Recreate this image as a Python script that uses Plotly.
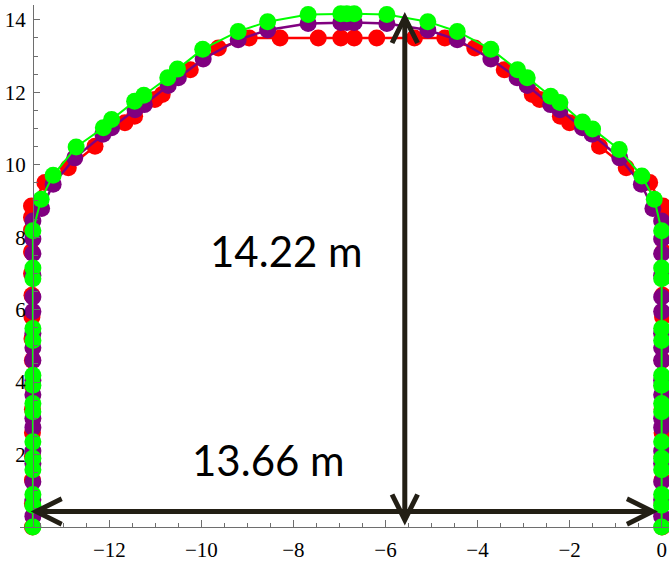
import numpy as np
import plotly.graph_objects as go

# ---- tunnel profile data (x, y in metres) ----
red_x = [-13.67, -13.67, -13.67, -13.67, -13.67, -13.67, -13.67, -13.67, -13.68, -13.68,
         -13.68, -13.69, -13.69, -13.69, -13.69, -13.69,
         -13.40, -12.89, -12.31, -11.66, -11.45, -11.01, -10.85, -10.24, -9.63,
         -8.96, -8.29, -7.46, -6.97, -6.68, -6.19, -5.37, -4.71,
         -4.06, -3.42, -2.81, -2.65, -2.20, -2.00, -1.35, -0.77, -0.26,
         0.03, 0.03, 0.03, 0.03, 0.03, 0.02, 0.02, 0.02, 0.01, 0.01,
         0.01, 0.01, 0.01, 0.01, 0.01, 0.01]
red_y = [0.0, 0.65, 1.3, 1.95, 2.6, 3.25, 3.9, 4.6, 5.2, 5.8,
         6.4, 7.0, 7.6, 8.2, 8.55, 8.86,
         9.51, 9.92, 10.51, 11.16, 11.34, 11.80, 11.94, 12.62, 13.22,
         13.50, 13.50, 13.50, 13.50, 13.50, 13.50, 13.50, 13.50,
         13.22, 12.62, 11.94, 11.80, 11.34, 11.16, 10.51, 9.92, 9.51,
         8.86, 8.55, 8.2, 7.6, 7.0, 6.4, 5.8, 5.2, 4.6, 3.9,
         3.25, 2.6, 1.95, 1.3, 0.65, 0.0]

purple_x = [-13.66] * 18 + [
    -13.47, -13.22, -12.75, -12.14, -11.95, -11.44, -11.24, -10.72, -10.50, -9.96,
    -9.20, -8.56, -7.68, -6.97, -6.84, -6.68, -5.97, -5.08, -4.44,
    -3.71, -3.14, -2.92, -2.41, -2.21, -1.72, -1.51, -0.91, -0.44, -0.19,
] + [0.0] * 18
purple_y = [0.3, 0.75, 1.25, 1.75, 2.1, 2.75, 3.0, 3.65, 4.05, 4.6,
            4.95, 5.35, 5.95, 6.35, 6.95, 7.55, 7.95, 8.45,
            8.79, 9.46, 10.19, 10.84, 11.02, 11.52, 11.66, 12.19, 12.40, 12.92,
            13.45, 13.72, 13.90, 13.93, 13.93, 13.93, 13.90, 13.72, 13.45,
            12.92, 12.40, 12.19, 11.66, 11.52, 11.02, 10.84, 10.19, 9.46, 8.79,
            8.45, 7.95, 7.55, 6.95, 6.35, 5.95, 5.35, 4.95, 4.6,
            4.05, 3.65, 3.0, 2.75, 2.1, 1.75, 1.25, 0.75, 0.3]

green_x = [-13.66] * 15 + [
    -13.48, -13.22, -12.72, -12.13, -11.95, -11.45, -11.25, -10.73, -10.52, -9.97,
    -9.20, -8.56, -7.68, -6.97, -6.84, -6.68, -5.97, -5.08, -4.44,
    -3.71, -3.13, -2.92, -2.41, -2.21, -1.72, -1.50, -0.92, -0.43, -0.16,
] + [0.0] * 15
green_y = [0.0, 0.6, 0.9, 1.58, 1.9, 2.35, 3.18, 3.41, 3.91, 4.19,
           5.15, 5.48, 6.85, 7.15, 8.18,
           9.05, 9.71, 10.49, 11.02, 11.25, 11.75, 11.92, 12.40, 12.64, 13.19,
           13.68, 13.95, 14.15, 14.17, 14.17, 14.17, 14.15, 13.95, 13.68,
           13.19, 12.62, 12.40, 11.89, 11.72, 11.18, 10.99, 10.42, 9.69, 9.05,
           8.18, 7.15, 6.85, 5.48, 5.15, 4.19, 3.91, 3.41, 3.18, 2.35,
           1.9, 1.58, 0.9, 0.6, 0.0]

# dimension arrows and their labels
width_value = 13.66
height_value = 14.22
width_arrow_start = -13.74
width_arrow_y = 0.43
height_arrow_x = -5.58
width_label = "13.66 m"
height_label = "14.22 m"

# axis ticks
x_ticks = [-12, -10, -8, -6, -4, -2, 0]
y_ticks = [2, 4, 6, 8, 10, 12, 14]

series = [
    (red_x, red_y, "#ff0000", 2.5),
    (purple_x, purple_y, "#800080", 2.5),
    (green_x, green_y, "#00ff00", 2),
]

fig = go.Figure()
for xs, ys, color, lw in series:
    fig.add_trace(go.Scatter(
        x=xs, y=ys, mode="lines+markers",
        line=dict(color=color, width=lw),
        marker=dict(color=color, size=17, line=dict(width=0)),
        cliponaxis=False, showlegend=False, hoverinfo="skip",
    ))

arrow_color = "#231f15"
arrow_common = dict(
    xref="x", yref="y", axref="x", ayref="y", text="", showarrow=True,
    arrowhead=5, startarrowhead=5, arrowside="end+start",
    arrowsize=1.0, startarrowsize=1.0, arrowwidth=5, arrowcolor=arrow_color,
    standoff=0, startstandoff=0,
)
fig.add_annotation(x=width_arrow_start + width_value, y=width_arrow_y,
                   ax=width_arrow_start, ay=width_arrow_y, **arrow_common)
fig.add_annotation(x=height_arrow_x, y=height_value,
                   ax=height_arrow_x, ay=0, **arrow_common)

label_font = dict(family="Lato", size=42, color="black")
fig.add_annotation(x=-8.15, y=7.62, text=height_label, showarrow=False, font=label_font)
fig.add_annotation(x=-8.55, y=1.85, text=width_label, showarrow=False, font=label_font)

axis_color = "#6e6e6e"
tick_font = dict(family="Liberation Serif", size=21, color="black")
x_range = [-13.94, 0.16]
y_range = [0, 14.41]

fig.update_layout(
    width=669, height=562,
    margin=dict(l=20, r=0, t=5, b=33, pad=0),
    paper_bgcolor="white", plot_bgcolor="white",
    xaxis=dict(
        range=x_range, showgrid=False, zeroline=False,
        showline=True, linecolor=axis_color, linewidth=1,
        tickmode="array", tickvals=x_ticks, ticks="inside", ticklen=7,
        tickcolor=axis_color, tickwidth=1, tickfont=tick_font,
        ticklabelstandoff=4,
        minor=dict(tickmode="array", tickvals=list(np.arange(-13.5, 0.01, 0.5)),
                   ticks="inside", ticklen=4, tickcolor=axis_color, tickwidth=1),
        layer="above traces",
    ),
    yaxis=dict(
        range=y_range, showgrid=False, zeroline=False,
        anchor="free", position=(-13.66 - x_range[0]) / (x_range[1] - x_range[0]),
        showline=True, linecolor=axis_color, linewidth=1,
        tickmode="array", tickvals=y_ticks, ticks="inside", ticklen=6,
        tickcolor=axis_color, tickwidth=1, tickfont=tick_font,
        ticklabelstandoff=3,
        minor=dict(tickmode="array", tickvals=list(np.arange(0.5, 14.41, 0.5)),
                   ticks="inside", ticklen=4, tickcolor=axis_color, tickwidth=1),
        layer="above traces",
    ),
)

fig.write_html("out.html")
